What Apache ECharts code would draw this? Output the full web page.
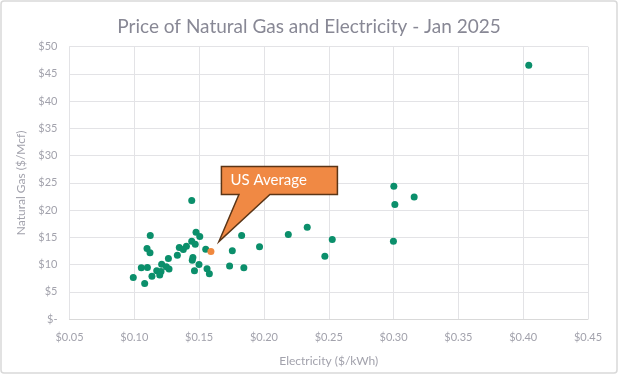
<!DOCTYPE html>
<html>
<head>
<meta charset="utf-8">
<script src="https://cdn.jsdelivr.net/npm/echarts@6/dist/echarts.min.js"></script>
<style>
html,body{margin:0;padding:0;background:#fff;}
#chart{width:618px;height:374px;}
</style>
</head>
<body>
<div id="chart"></div>
<script>
// Electricity price ($/kWh) per state
const electricity = [0.1443,0.1123,0.1476,0.1505,0.1443,0.1470,0.1402,0.1347,0.1378,0.1098,0.1121,0.1551,0.1332,0.1263,0.1452,0.1447,0.1756,0.1828,0.1966,0.2188,0.1211,0.1247,0.1268,0.1054,0.1101,0.1499,0.1561,0.1579,0.1464,0.1735,0.1845,0.1173,0.1206,0.1136,0.1196,0.0992,0.1080,0.2334,0.2527,0.2470,0.3002,0.3010,0.2999,0.3159,0.4043];
// Natural gas price ($/Mcf) per state
const naturalGas = [21.76,15.34,15.94,15.16,14.29,13.74,13.38,13.13,12.77,12.95,12.15,12.83,11.72,11.12,11.30,10.81,12.51,15.34,13.25,15.5,10.07,9.6,9.2,9.39,9.47,10.02,9.21,8.29,8.84,9.71,9.39,8.84,8.73,7.87,8.06,7.63,6.53,16.86,14.61,11.54,24.39,21.03,14.29,22.42,46.59];
// US average
const usAvgElectricity = [0.1591];
const usAvgGas = [12.40];
const calloutText = 'US Average';
const xTicks = {min:0.05,max:0.45,interval:0.05};
const yTicks = {min:0,max:50,interval:5};

const font = 'Lato';
const labelColor = '#a2a2ac';
const chart = echarts.init(document.getElementById('chart'), null, {renderer:'canvas'});
const option = {
  animation:false,
  title:{text:'Price of Natural Gas and Electricity - Jan 2025',left:'center',top:12,
    textStyle:{fontFamily:font,fontWeight:'normal',fontSize:19,color:'#888895'}},
  grid:{left:69.5,right:30,top:46.7,bottom:55},
  xAxis:{type:'value',min:xTicks.min,max:xTicks.max,interval:xTicks.interval,
    name:'Electricity ($/kWh)',nameLocation:'middle',nameGap:36,
    nameTextStyle:{fontFamily:font,fontSize:12,color:labelColor},
    axisLine:{show:true,lineStyle:{color:'#d9d9d9'}},axisTick:{show:false},
    axisLabel:{fontFamily:font,fontSize:11,color:labelColor,margin:13,formatter:v=>'$'+v.toFixed(2)},
    splitLine:{show:true,lineStyle:{color:'#e3e3e6',width:1}}},
  yAxis:{type:'value',min:yTicks.min,max:yTicks.max,interval:yTicks.interval,
    name:'Natural Gas ($/Mcf)',nameLocation:'middle',nameGap:33,
    nameTextStyle:{fontFamily:font,fontSize:12,color:labelColor},
    axisLine:{show:true,lineStyle:{color:'#e3e3e6'}},axisTick:{show:false},
    axisLabel:{fontFamily:font,fontSize:11,color:labelColor,margin:12,formatter:v=>v===0?'$-':'$'+v},
    splitLine:{show:true,lineStyle:{color:'#e3e3e6',width:1}}},
  series:[
    {type:'scatter',symbolSize:7,itemStyle:{color:'#0b8f6b',opacity:1},
      data:electricity.map((e,i)=>[e,naturalGas[i]])},
    {type:'scatter',symbolSize:7,itemStyle:{color:'#f0883e',opacity:1},
      data:usAvgElectricity.map((e,i)=>[e,usAvgGas[i]])}
  ]
};
chart.setOption(option);
const p = chart.convertToPixel({gridIndex:0},[usAvgElectricity[0],usAvgGas[0]]);
const bx = p[0]+10.5, by = p[1]-85, bw = 116, bh = 28;
chart.setOption({graphic:[
  {type:'rect',shape:{x:1,y:1,width:616,height:372,r:3},style:{fill:'none',stroke:'#d9d9d9',lineWidth:1.5},silent:true},
  {type:'polygon',shape:{points:[[bx,by],[bx+bw,by],[bx+bw,by+bh],[p[0]+59,by+bh],[p[0]+8,p[1]-10],[p[0]+28,by+bh],[bx,by+bh]]},
    style:{fill:'#f08944',stroke:'#5b3516',lineWidth:1.5,lineJoin:'miter'},z:100},
  {type:'text',x:bx+9,y:by+bh/2,style:{text:calloutText,fill:'#ffffff',fontFamily:font,fontSize:15,verticalAlign:'middle'},z:101}
]});
</script>
</body>
</html>
